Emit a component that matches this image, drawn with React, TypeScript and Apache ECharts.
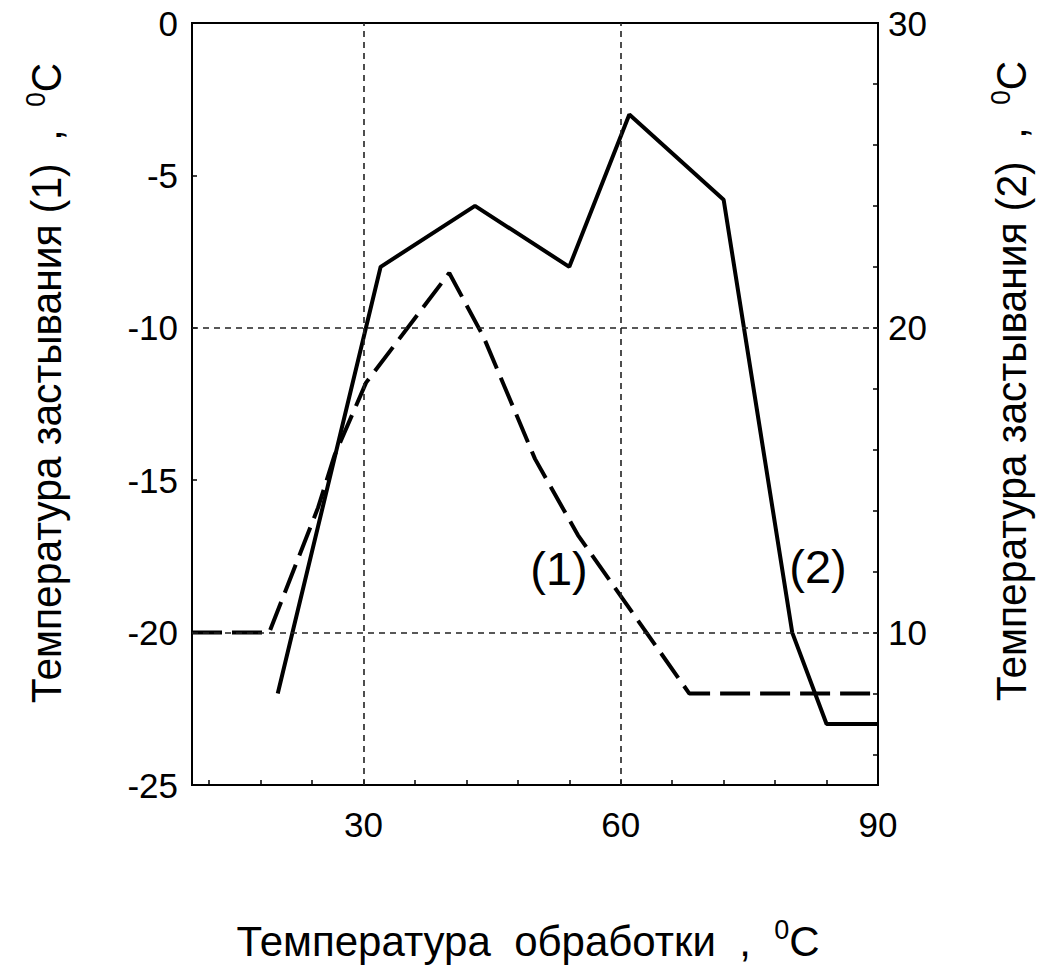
import React, { useEffect, useRef } from "react";
import * as echarts from "echarts";

// ---- data ----
const xDashed = [10, 19, 24.7, 26.6, 30.3, 40, 44, 50, 55, 68, 90];
const yDashed = [-20, -20, -15.9, -14.2, -11.8, -8.2, -10.3, -14.3, -16.8, -22, -22];
const xSolid = [20, 32, 43, 54, 61, 72, 80, 84, 90];
const ySolid = [8, 22, 24, 22, 27, 24.2, 10, 7, 7];

const X_TICKS = [12, 18, 24, 30, 36, 42, 48, 54, 60, 66, 72, 78, 84, 90];
const X_LABELS = [30, 60, 90];
const Y2_TICKS = [6, 8, 10, 12, 14, 16, 18, 20, 22, 24, 26, 28];
const Y2_LABELS = [10, 20, 30];
const GRID_X = [30, 60];
const GRID_Y1 = [-10, -20];

const X_TITLE = "Температура  обработки  ,  ";
const Y1_TITLE = "Температура застывания (1)  ,  ";
const Y2_TITLE = "Температура застывания (2)  ,  ";
const SUP = "0";
const UNIT = "C";
const LABEL1 = "(1)";
const LABEL2 = "(2)";

const FONT = '"Liberation Sans", Arial, sans-serif';

function titleRich(main: string) {
  return {
    text: `{m|${main}}{s|${SUP}}{m|${UNIT}}`,
    rich: {
      m: { fontSize: 42, fontFamily: FONT, fill: "#000", verticalAlign: "bottom", lineHeight: 46 },
      s: { fontSize: 27, fontFamily: FONT, fill: "#000", verticalAlign: "top", lineHeight: 46 },
    },
  };
}

export default function App() {
  const ref = useRef<HTMLDivElement>(null);
  useEffect(() => {
    const chart = echarts.init(ref.current!, undefined, { renderer: "svg" });
    const axisLine = { show: true, onZero: false, lineStyle: { color: "#000", width: 2 } };
    const labelStyle = { color: "#000", fontSize: 35, fontFamily: FONT };
    const option: any = {
      animation: false,
      backgroundColor: "#fff",
      grid: {
        left: 192,
        top: 23,
        width: 686,
        height: 762,
        show: true,
        borderColor: "#000",
        borderWidth: 2,
        backgroundColor: "transparent",
      },
      xAxis: {
        type: "value",
        min: 10,
        max: 90,
        axisLine,
        axisTick: { show: true, inside: true, length: 5, customValues: X_TICKS, lineStyle: { color: "#000", width: 1.5 } },
        axisLabel: { ...labelStyle, customValues: X_LABELS, margin: 22 },
        splitLine: { show: false },
      },
      yAxis: [
        {
          type: "value",
          position: "left",
          min: -25,
          max: 0,
          interval: 5,
          axisLine,
          axisTick: { show: true, inside: true, length: 5, lineStyle: { color: "#000", width: 1.5 } },
          axisLabel: { ...labelStyle, margin: 14 },
          splitLine: { show: false },
        },
        {
          type: "value",
          position: "right",
          min: 5,
          max: 30,
          axisLine,
          axisTick: { show: true, inside: true, length: 5, customValues: Y2_TICKS, lineStyle: { color: "#000", width: 1.5 } },
          axisLabel: { ...labelStyle, customValues: Y2_LABELS, margin: 10 },
          splitLine: { show: false },
        },
      ],
      series: [
        {
          type: "line",
          yAxisIndex: 0,
          data: xDashed.map((x, i) => [x, yDashed[i]]),
          symbol: "none",
          lineStyle: { color: "#000", width: 4, type: [30, 10] },
          markLine: {
            silent: true,
            symbol: ["none", "none"],
            label: { show: false },
            lineStyle: { color: "#222", width: 1.6, type: [6, 5] },
            data: [
              ...GRID_X.map((v) => ({ xAxis: v })),
              ...GRID_Y1.map((v) => ({ yAxis: v })),
            ],
          },
        },
        {
          type: "line",
          yAxisIndex: 1,
          data: xSolid.map((x, i) => [x, ySolid[i]]),
          symbol: "none",
          lineStyle: { color: "#000", width: 4 },
        },
      ],
      graphic: [
        {
          type: "text",
          x: 528,
          y: 939,
          style: { ...titleRich(X_TITLE), align: "center", verticalAlign: "middle" },
        },
        {
          type: "text",
          x: 45,
          y: 383,
          rotation: Math.PI / 2,
          scaleX: 0.97,
          style: { ...titleRich(Y1_TITLE), align: "center", verticalAlign: "middle" },
        },
        {
          type: "text",
          x: 1010,
          y: 381,
          rotation: Math.PI / 2,
          scaleX: 0.97,
          style: { ...titleRich(Y2_TITLE), align: "center", verticalAlign: "middle" },
        },
        {
          type: "text",
          x: 559,
          y: 568,
          style: { text: LABEL1, fontSize: 47, fontFamily: FONT, fill: "#000", align: "center", verticalAlign: "middle" },
        },
        {
          type: "text",
          x: 818,
          y: 566,
          style: { text: LABEL2, fontSize: 47, fontFamily: FONT, fill: "#000", align: "center", verticalAlign: "middle" },
        },
      ],
    };
    chart.setOption(option);
    return () => chart.dispose();
  }, []);
  return (
    <div
      ref={ref}
      style={{ position: "absolute", left: 0, top: 0, width: 1040, height: 968, background: "#fff" }}
    />
  );
}
